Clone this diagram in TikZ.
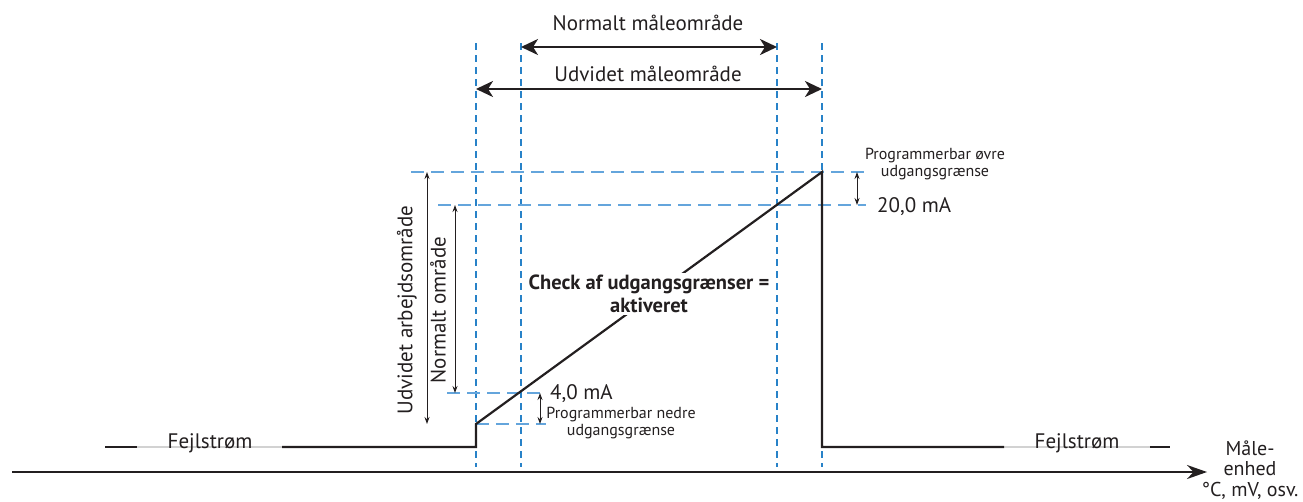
\documentclass[tikz,border=0pt]{standalone}
\usepackage{fontspec}
\setmainfont{PT Sans}
\usetikzlibrary{arrows.meta}
\definecolor{vblue}{RGB}{40,130,200}
\definecolor{hblue}{RGB}{100,165,220}
\definecolor{errgrey}{RGB}{210,210,210}
\definecolor{ink}{RGB}{35,31,32}
\begin{document}
\begin{tikzpicture}[x=1pt,y=-1pt,
  vdash/.style={vblue, line width=1.3pt, dash pattern=on 7pt off 5pt},
  hdash/.style={hblue, line width=2pt, dash pattern=on 13pt off 7pt},
  curve/.style={ink, line width=2.2pt, line join=miter},
  errline/.style={ink, line width=2.2pt},
  errgreyline/.style={errgrey, line width=2.2pt},
  bigarr/.style={ink, line width=2.5pt, {Stealth[length=17pt,width=16pt,inset=5pt]}-{Stealth[length=17pt,width=16pt,inset=5pt]}},
  midarr/.style={ink, line width=0.9pt, {Stealth[length=7pt,width=5pt]}-{Stealth[length=7pt,width=5pt]}},
  axisarr/.style={ink, line width=2pt, -{Stealth[length=20pt,width=14pt]}},
  biglbl/.style={font=\fontsize{21}{24}\selectfont, text=ink, inner sep=0pt},
  malbl/.style={font=\fontsize{21}{22}\selectfont, text=ink, inner sep=0pt},
  smalllbl/.style={font=\fontsize{16}{17.5}\selectfont, text=ink, inner sep=0pt, align=center},
  checklbl/.style={font=\fontsize{20.5}{22.5}\selectfont\bfseries, text=ink, fill=white, inner sep=2pt, align=center},
]
\useasboundingbox (0,0) rectangle (1303,501);

% vertical dashed lines
\coordinate (v1t) at (476,43);  \coordinate (v1b) at (476,467);
\coordinate (v2t) at (521,43);  \coordinate (v2b) at (521,467);
\coordinate (v3t) at (777,43);  \coordinate (v3b) at (777,467);
\coordinate (v4t) at (822,43);  \coordinate (v4b) at (822,467);
\draw[vdash] (v1t) -- (v1b);
\draw[vdash] (v2t) -- (v2b);
\draw[vdash] (v3t) -- (v3b);
\draw[vdash] (v4t) -- (v4b);

% horizontal dashed lines
\coordinate (h1l) at (411,172); \coordinate (h1r) at (866,172);
\coordinate (h2l) at (438,205); \coordinate (h2r) at (866,205);
\coordinate (h3l) at (447,393); \coordinate (h3r) at (546,393);
\coordinate (h4l) at (476,424); \coordinate (h4r) at (546,424);
\draw[hdash] (h1l) -- (h1r);
\draw[hdash] (h2l) -- (h2r);
\draw[hdash] (h3l) -- (h3r);
\draw[hdash] (h4l) -- (h4r);

% error current lines
\coordinate (eL0) at (105,447); \coordinate (eL1) at (137,447);
\coordinate (eL2) at (282,447);
\coordinate (s1) at (476,447); \coordinate (s2) at (476,424);
\coordinate (s3) at (822,172); \coordinate (s4) at (822,447);
\coordinate (eR1) at (1004,447); \coordinate (eR2) at (1150,447);
\coordinate (eR3) at (1170,447);
\draw[errline] (eL0) -- (eL1);
\draw[errgreyline] (eL1) -- (eL2);
\draw[errgreyline] (eR1) -- (eR2);
\draw[errline] (eR2) -- (eR3);
\draw[curve] (eL2) -- (s1) -- (s2) -- (s3) -- (s4) -- (eR1);

\node[biglbl] (fejlL) at (210,443) {Fejlstrøm};
\node[biglbl] (fejlR) at (1077,443) {Fejlstrøm};

% axis
\coordinate (ax0) at (12,472); \coordinate (ax1) at (1207,472);
\draw[axisarr] (ax0) -- (ax1);
\node[malbl, align=center, font=\fontsize{20}{20.5}\selectfont] (unit) at (1250,470) {Måle-\\enhed\\°C, mV, osv.};

% top range arrows
\coordinate (nmL) at (521,47); \coordinate (nmR) at (777,47);
\coordinate (umL) at (476,89); \coordinate (umR) at (822,89);
\draw[bigarr] (nmL) -- (nmR);
\draw[bigarr] (umL) -- (umR);
\node[biglbl] (nml) at (648,23) {Normalt måleområde};
\node[biglbl] (uml) at (648,74) {Udvidet måleområde};

% left vertical arrows
\coordinate (uaT) at (427,172); \coordinate (uaB) at (427,424);
\coordinate (naT) at (455,205); \coordinate (naB) at (455,393);
\draw[midarr] (uaT) -- (uaB);
\draw[midarr] (naT) -- (naB);
\node[biglbl, rotate=90] (ual) at (407,310) {Udvidet arbejdsområde};
\node[biglbl, rotate=90] (nal) at (438,310) {Normalt område};

% right small limit arrow
\coordinate (ruT) at (857,172); \coordinate (ruB) at (857,205);
\draw[midarr] (ruT) -- (ruB);
\node[smalllbl] (ovre) at (935,164) {Programmerbar øvre\\udgangsgrænse};
\node[malbl, anchor=west] (ma20) at (877,207) {20,0 mA};

% lower small limit arrow
\coordinate (loT) at (540,393); \coordinate (loB) at (540,424);
\draw[midarr] (loT) -- (loB);
\node[malbl, anchor=west] (ma4) at (550,394) {4,0 mA};
\node[smalllbl] (nedre) at (621,423) {Programmerbar nedre\\udgangsgrænse};

% centre label
\node[checklbl] (check) at (649,294) {Check af udgangsgrænser =\\aktiveret};
\end{tikzpicture}
\end{document}
